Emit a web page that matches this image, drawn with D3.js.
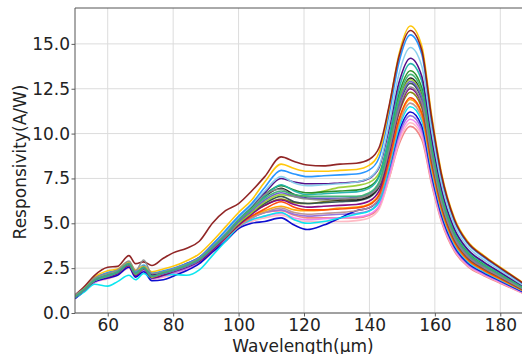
<!DOCTYPE html>
<html>
<head>
<meta charset="utf-8">
<script src="https://cdn.jsdelivr.net/npm/d3@7"></script>
<style>
  html, body { margin: 0; padding: 0; background: #ffffff; }
  svg { display: block; font-family: "DejaVu Sans", sans-serif; }
</style>
</head>
<body>
<svg id="chart" width="522" height="354"></svg>
<script>
// ---- data ----
const wavelengths = [50,53,56,60,63,66.5,68.5,71,73.5,77,80,84,88,92,96,100,104,108,113,117,121,126,131,136,140,143,146,149,152.5,156,159,162,166,170,175,180,187];

const xTicks = [60, 80, 100, 120, 140, 160, 180];
const yTicks = [0, 2.5, 5, 7.5, 10, 12.5, 15];

const seriesColors = ["#8B1A1A","#FFC400","#1E90FF","#87CEEB","#4B0082","#20B2AA","#228B22","#9ACD32","#1a1a1a","#2F4F4F","#800080","#808000","#FF4500","#FFA500","#BC8F8F","#00E5EE","#0000CD","#9370DB","#EE82EE","#FFB6C1","#F08080","#6A5ACD","#8C8C8C","#3CB371"];

const sBrown   = [1.0,1.5,2.1,2.55,2.6,3.2,2.75,2.85,2.65,3.05,3.35,3.6,4.0,5.0,5.7, 6.1,6.8,7.6,8.7,8.45,8.25,8.2,8.3,8.35, 8.57,9.24,11.53,14.27,15.75, 14.65,10.87,7.72,5.2,3.94,3.15,2.52,1.65];
const sGold    = [0.95,1.45,2.0,2.35,2.45,2.85,2.4,2.6,2.3,2.45,2.6,2.9,3.3,4.0,4.8, 5.6,6.3,7.3,8.3,8.05,7.9,7.9,7.95,8.0, 8.24,8.96,11.44,14.4,16.0, 14.88,11.04,7.84,5.28,4.0,3.2,2.56,1.68];
const sDodger  = [0.9,1.4,1.95,2.25,2.4,2.8,2.3,2.65,2.2,2.35,2.5,2.75,3.1,3.8,4.6, 5.4,6.1,7.0,7.95,7.75,7.6,7.65,7.7,7.75, 7.98,8.68,11.08,13.95,15.5, 14.42,10.7,7.6,5.12,3.88,3.1,2.48,1.63];
const sSky     = [0.9,1.35,1.9,2.2,2.35,2.8,2.3,2.7,2.25,2.3,2.45,2.7,3.05,3.75,4.5, 5.3,6.0,6.8,7.6,7.25,7.1,7.15,7.2,7.3, 7.53,8.2,10.53,13.3,14.8, 13.76,10.21,7.25,4.88,3.7,2.96,2.37,1.55];
const sIndigo  = [0.95,1.35,1.85,2.15,2.3,2.75,2.25,2.55,2.1,2.25,2.45,2.75,3.1,3.8,4.5, 5.3,6.0,6.7,7.5,7.3,7.2,7.2,7.25,7.3, 7.51,8.13,10.27,12.82,14.2, 13.2,9.8,6.96,4.69,3.55,2.84,2.27,1.49];
const sTeal    = [0.9,1.3,1.8,2.05,2.25,2.7,2.2,2.5,2.05,2.2,2.35,2.6,2.95,3.6,4.3, 5.1,5.8,6.5,7.15,6.8,6.6,6.65,6.7,6.75, 6.96,7.61,9.82,12.47,13.9, 12.93,9.59,6.81,4.59,3.48,2.78,2.22,1.46];
const sGreen   = [0.95,1.35,1.85,2.1,2.3,2.75,2.2,2.55,2.05,2.25,2.4,2.65,3.0,3.65,4.35, 5.2,5.9,6.6,7.1,6.85,6.7,6.75,6.8,6.85, 7.05,7.65,9.71,12.17,13.5, 12.56,9.32,6.62,4.46,3.38,2.7,2.16,1.42];
const sLime    = [0.9,1.3,1.8,2.05,2.25,2.7,2.15,2.5,2.0,2.2,2.35,2.6,2.95,3.6,4.25, 5.0,5.6,6.2,6.6,6.5,6.6,6.8,7.0,7.1, 7.28,7.81,9.64,11.82,13.0, 12.09,8.97,6.37,4.29,3.25,2.6,2.08,1.37];
const sBlack   = [0.95,1.4,1.9,2.15,2.35,2.8,2.25,2.6,2.1,2.25,2.4,2.7,3.05,3.7,4.4, 5.3,5.9,6.5,6.95,6.6,6.4,6.35,6.3,6.3, 6.5,7.12,9.22,11.74,13.1, 12.18,9.04,6.42,4.32,3.28,2.62,2.1,1.38];
const sSlate   = [0.9,1.35,1.85,2.1,2.3,2.75,2.2,2.55,2.05,2.2,2.35,2.6,2.95,3.6,4.3, 5.0,5.6,6.1,6.5,6.2,6.1,6.15,6.2,6.25, 6.45,7.04,9.07,11.49,12.8, 11.9,8.83,6.27,4.22,3.2,2.56,2.05,1.34];
const sPurple  = [0.85,1.3,1.8,2.0,2.2,2.65,2.1,2.45,1.95,2.1,2.3,2.55,2.9,3.5,4.2, 4.9,5.5,6.0,6.3,6.05,5.9,5.95,6.0,6.05, 6.24,6.82,8.82,11.21,12.5, 11.63,8.63,6.13,4.13,3.13,2.5,2.0,1.31];
const sOlive   = [0.95,1.35,1.9,2.15,2.3,2.7,2.25,2.5,2.1,2.25,2.4,2.7,3.0,3.65,4.3, 5.0,5.6,6.0,6.35,6.15,6.1,6.2,6.3,6.4, 6.58,7.11,8.94,11.12,12.3, 11.44,8.49,6.03,4.06,3.08,2.46,1.97,1.29];
const sOrRed   = [0.9,1.3,1.8,2.05,2.25,2.65,2.15,2.5,2.0,2.15,2.35,2.6,2.9,3.5,4.2, 4.9,5.4,5.8,6.2,5.9,5.75,5.75,5.8,5.85, 6.03,6.59,8.49,10.77,12.0, 11.16,8.28,5.88,3.96,3.0,2.4,1.92,1.26];
const sOrange  = [0.9,1.35,1.85,2.1,2.3,2.7,2.2,2.55,2.05,2.2,2.4,2.65,2.95,3.55,4.2, 4.9,5.4,5.7,5.95,5.75,5.7,5.75,5.85,5.9, 6.08,6.62,8.48,10.7,11.9, 11.07,8.21,5.83,3.93,2.98,2.38,1.9,1.25];
const sRosy    = [0.95,1.35,1.85,2.1,2.3,2.7,2.25,2.5,2.05,2.2,2.35,2.6,2.95,3.55,4.2, 4.8,5.3,5.6,5.85,5.6,5.5,5.55,5.6,5.7, 5.88,6.42,8.28,10.5,11.7, 10.88,8.07,5.73,3.86,2.93,2.34,1.87,1.23];
const sCyan    = [0.85,1.2,1.6,1.5,1.75,2.1,1.85,2.2,1.95,2.1,2.15,2.1,2.4,3.2,4.0, 4.8,5.2,5.4,5.6,5.2,5.0,5.1,5.3,5.5, 5.68,6.22,8.08,10.3,11.5, 10.7,7.94,5.64,3.8,2.88,2.3,1.84,1.21];
const sBlue    = [0.8,1.25,1.75,1.95,2.1,2.55,2.0,2.3,1.8,1.85,2.05,2.35,2.75,3.4,4.0, 4.7,5.0,5.1,5.3,4.9,4.65,4.9,5.3,5.7, 5.87,6.36,8.07,10.1,11.2, 10.42,7.73,5.49,3.7,2.8,2.24,1.79,1.18];
const sMedPurp = [0.85,1.3,1.8,2.0,2.2,2.6,2.1,2.4,1.95,2.1,2.25,2.5,2.85,3.45,4.1, 4.8,5.3,5.6,5.75,5.5,5.4,5.45,5.5,5.55, 5.71,6.2,7.89,9.91,11.0, 10.23,7.59,5.39,3.63,2.75,2.2,1.76,1.16];
const sViolet  = [0.8,1.25,1.7,1.95,2.15,2.55,2.05,2.35,1.9,2.05,2.2,2.45,2.8,3.4,4.05, 4.75,5.2,5.4,5.55,5.3,5.2,5.25,5.3,5.35, 5.51,6.0,7.69,9.71,10.8, 10.04,7.45,5.29,3.56,2.7,2.16,1.73,1.13];
const sPink    = [0.8,1.25,1.7,1.9,2.1,2.5,2.0,2.3,1.9,2.0,2.15,2.4,2.75,3.35,4.0, 4.7,5.1,5.3,5.45,5.2,5.1,5.1,5.1,5.15, 5.31,5.8,7.49,9.51,10.6, 9.86,7.31,5.19,3.5,2.65,2.12,1.7,1.11];
const sCoral   = [0.85,1.3,1.75,2.0,2.2,2.6,2.1,2.4,1.95,2.1,2.25,2.5,2.85,3.45,4.1, 4.8,5.3,5.6,5.7,5.45,5.3,5.3,5.3,5.3, 5.45,5.91,7.49,9.38,10.4, 9.67,7.18,5.1,3.43,2.6,2.08,1.66,1.09];
const sSlBlue  = [0.9,1.3,1.85,2.1,2.3,2.75,2.2,2.55,2.05,2.2,2.35,2.6,2.95,3.6,4.3, 5.1,5.7,6.3,6.7,6.5,6.4,6.4,6.4,6.45, 6.64,7.22,9.22,11.61,12.9, 12.0,8.9,6.32,4.26,3.23,2.58,2.06,1.35];
const sGray    = [1.0,1.4,1.95,2.2,2.4,2.9,2.35,2.95,2.2,2.3,2.45,2.7,3.05,3.7,4.4, 5.2,5.8,6.6,6.9,6.5,6.35,6.3,6.35,6.4, 6.59,7.14,9.07,11.36,12.6, 11.72,8.69,6.17,4.16,3.15,2.52,2.02,1.32];
const sSeaGrn  = [0.9,1.35,1.85,2.1,2.3,2.75,2.2,2.55,2.05,2.25,2.4,2.65,3.0,3.65,4.35, 5.2,5.8,6.4,6.8,6.6,6.5,6.5,6.5,6.5, 6.7,7.32,9.42,11.94,13.3, 12.37,9.18,6.52,4.39,3.33,2.66,2.13,1.4];

const allSeries = [sBrown,sGold,sDodger,sSky,sIndigo,sTeal,sGreen,sLime,sBlack,sSlate,sPurple,sOlive,sOrRed,sOrange,sRosy,sCyan,sBlue,sMedPurp,sViolet,sPink,sCoral,sSlBlue,sGray,sSeaGrn];
// draw order: lower ones first so the envelope colours sit on top as in the picture
const drawOrder = [20,19,18,17,16,15,14,13,12,11,10,9,8,7,6,5,4,3,2,1,0,21,22,23];

// ---- layout ----
const svg = d3.select("#chart");
const plot = { left: 75, top: 8, right: 533, bottom: 313 };

const x = d3.scaleLinear().domain([50, 190]).range([plot.left, plot.right]);
const y = d3.scaleLinear().domain([0, 17]).range([plot.bottom, plot.top]);

svg.append("defs").append("clipPath").attr("id", "clip")
  .append("rect").attr("x", plot.left).attr("y", plot.top)
  .attr("width", plot.right - plot.left).attr("height", plot.bottom - plot.top);

// grid
const grid = svg.append("g");
grid.selectAll("line.gx").data(xTicks).enter().append("line")
  .attr("x1", d => x(d)).attr("x2", d => x(d))
  .attr("y1", plot.top).attr("y2", plot.bottom)
  .attr("stroke", "#dcdcdc").attr("stroke-width", 1);
grid.selectAll("line.gy").data(yTicks).enter().append("line")
  .attr("x1", plot.left).attr("x2", plot.right)
  .attr("y1", d => y(d)).attr("y2", d => y(d))
  .attr("stroke", "#dcdcdc").attr("stroke-width", 1);

// lines
const line = d3.line()
  .x((d, i) => x(wavelengths[i]))
  .y(d => y(d))
  .curve(d3.curveMonotoneX);

const lines = svg.append("g").attr("clip-path", "url(#clip)");
drawOrder.forEach(k => {
  lines.append("path")
    .datum(allSeries[k])
    .attr("d", line)
    .attr("fill", "none")
    .attr("stroke", seriesColors[k])
    .attr("stroke-width", 1.6)
    .attr("stroke-opacity", 0.95);
});

// axes
const xAxis = d3.axisBottom(x).tickValues(xTicks).tickFormat(d3.format("d")).tickSize(3.5).tickPadding(2);
const yAxis = d3.axisLeft(y).tickValues(yTicks).tickFormat(d3.format(".1f")).tickSize(3.5).tickPadding(1.5);

const gx = svg.append("g").attr("transform", `translate(0,${plot.bottom})`).call(xAxis);
const gy = svg.append("g").attr("transform", `translate(${plot.left},0)`).call(yAxis);
[gx, gy].forEach(g => {
  g.select(".domain").remove();
  g.selectAll(".tick line").attr("stroke", "#333").attr("stroke-width", 0.8);
  g.selectAll(".tick text").attr("fill", "#222").style("font-size", "17px").style("font-family", "DejaVu Sans, sans-serif");
});

// spines
svg.append("line").attr("x1", plot.left).attr("x2", plot.left).attr("y1", plot.top).attr("y2", plot.bottom)
  .attr("stroke", "#555").attr("stroke-width", 1);
svg.append("line").attr("x1", plot.left).attr("x2", plot.right).attr("y1", plot.bottom).attr("y2", plot.bottom)
  .attr("stroke", "#555").attr("stroke-width", 1);
svg.append("line").attr("x1", plot.left).attr("x2", plot.right).attr("y1", plot.top).attr("y2", plot.top)
  .attr("stroke", "#555").attr("stroke-width", 1);

// axis labels
svg.append("text")
  .attr("x", 303).attr("y", 351.5)
  .attr("text-anchor", "middle")
  .style("font-size", "17px").attr("fill", "#222")
  .text("Wavelength(μm)");
svg.append("text")
  .attr("transform", `translate(25.7,162) rotate(-90)`)
  .attr("text-anchor", "middle")
  .style("font-size", "17px").attr("fill", "#222")
  .text("Responsivity(A/W)");
</script>
</body>
</html>
